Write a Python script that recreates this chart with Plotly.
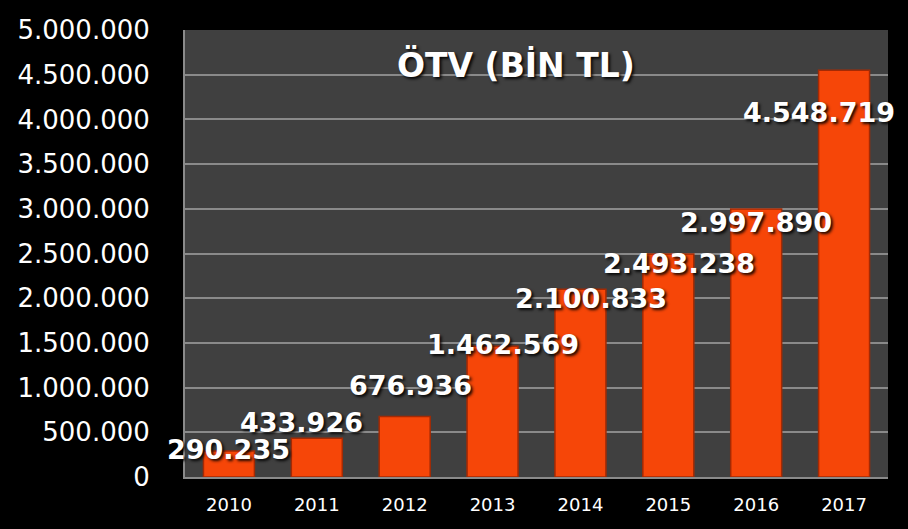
import plotly.graph_objects as go

years = ["2010", "2011", "2012", "2013", "2014", "2015", "2016", "2017"]
values = [290235, 433926, 676936, 1462569, 2100833, 2493238, 2997890, 4548719]
value_labels = ["290.235", "433.926", "676.936", "1.462.569", "2.100.833",
                "2.493.238", "2.997.890", "4.548.719"]
tick_vals = [0, 500000, 1000000, 1500000, 2000000, 2500000, 3000000,
             3500000, 4000000, 4500000, 5000000]
tick_text = ["0", "500.000", "1.000.000", "1.500.000", "2.000.000", "2.500.000",
             "3.000.000", "3.500.000", "4.000.000", "4.500.000", "5.000.000"]
title_text = "ÖTV (BİN TL)"

# label offsets in pixels (style)
label_xshift = [0, -15, 6, 10, 11, 11, 0, -25]
label_yshift = [2, 16, 31, 2, -9, -9, -14, -42]

fig = go.Figure()
fig.add_trace(go.Bar(
    x=years, y=values,
    marker=dict(color="#F64608", line=dict(color="#A42A04", width=1.5)),
    width=0.58,
    hoverinfo="x+y",
))

for i, (v, lab, xs, ys) in enumerate(zip(values, value_labels, label_xshift, label_yshift)):
    fig.add_annotation(
        x=i, y=v, text=lab, showarrow=False,
        xanchor="center", yanchor="middle", xshift=xs, yshift=ys,
        font=dict(family="DejaVu Sans", size=27, color="white", weight="bold",
                  shadow="2px 2px 3px rgba(0,0,0,0.9)"),
    )

fig.add_annotation(
    xref="paper", yref="paper", x=0.471, y=0.922, text=title_text,
    showarrow=False, xanchor="center", yanchor="middle",
    font=dict(family="DejaVu Sans", size=33, color="white", weight="bold",
              shadow="2px 2px 3px rgba(0,0,0,0.9)"),
)

fig.update_layout(
    width=908, height=529,
    margin=dict(l=185, r=20, t=30, b=52),
    paper_bgcolor="black",
    plot_bgcolor="#404040",
    showlegend=False,
)
fig.update_xaxes(
    type="category", range=[-0.5, 7.5],
    tickfont=dict(family="DejaVu Sans", size=18, color="white"),
    showline=True, linecolor="#8a8a8a", linewidth=2,
    showgrid=False, ticks="", ticklabelstandoff=10,
)
fig.update_yaxes(
    range=[0, 5000000], tickvals=tick_vals, ticktext=tick_text,
    tickfont=dict(family="DejaVu Sans", size=26, color="white"),
    showline=True, linecolor="#8a8a8a", linewidth=2,
    showgrid=True, gridcolor="#8a8a8a", gridwidth=2,
    zeroline=False, ticks="", ticklabelstandoff=28,
)

fig.write_html("out.html", config={"displayModeBar": False},
               post_script="document.body.style.margin='0';")
